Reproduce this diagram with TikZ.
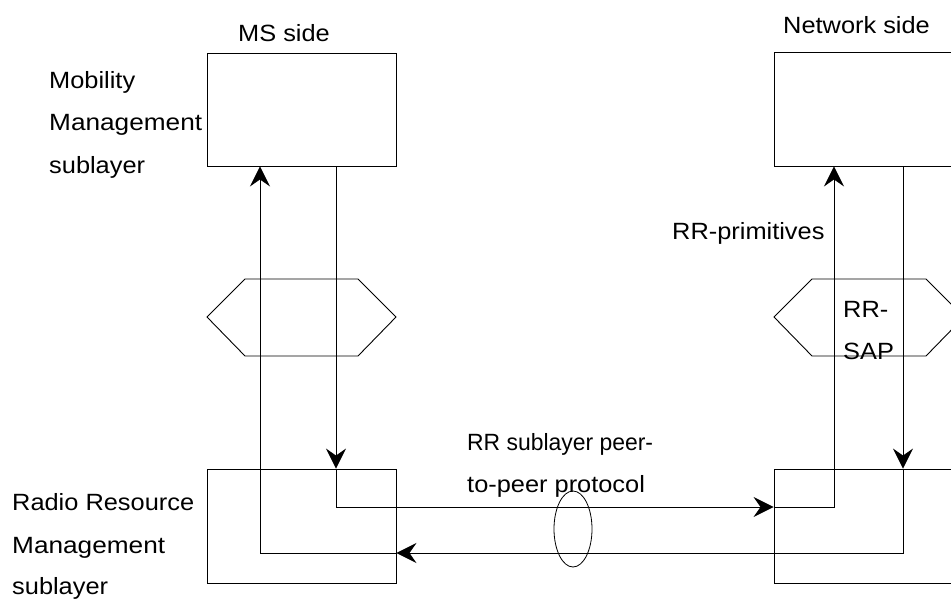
\documentclass[tikz,border=0pt]{standalone}
\usepackage{fontspec}
\setmainfont{Liberation Sans}[FakeStretch=1.08]
\newfontfamily\peerfont{Liberation Sans}[FakeStretch=0.975]
\newfontfamily\widefont{Liberation Sans}[FakeStretch=1.115]
\usetikzlibrary{arrows.meta}
\begin{document}
\begin{tikzpicture}[x=1pt,y=-1pt,
  line/.style={draw=black,line width=0.9pt},
  arr/.style={line,-{Stealth[length=20pt,width=20pt,inset=7pt]}},
  box/.style={draw=black,line width=0.9pt,rectangle,inner sep=0pt,minimum width=#1},
  lbl/.style={anchor=base west,inner sep=0pt,font=\fontsize{23.5}{28}\selectfont}]
\useasboundingbox (0,0) rectangle (951,600);
\clip (0,0) rectangle (951,600);
% boxes
\node[box=189pt,minimum height=113pt] (MMms) at (301.5,109.5) {};
\node[box=196pt,minimum height=114pt] (MMnet) at (872,109) {};
\node[box=189pt,minimum height=114pt] (RRms) at (301.5,526) {};
\node[box=196pt,minimum height=114pt] (RRnet) at (872,526) {};
% SAP hexagons
\draw[line] (207,317) -- (245,279) -- (358,279) -- (396,317) -- (358,356) -- (245,356) -- cycle;
\draw[line] (774,317) -- (812,279) -- (926,279) -- (964,317) -- (926,356) -- (812,356) -- cycle;
% x positions of the connectors
\coordinate (xa) at (336,0);
\coordinate (xb) at (834,0);
\coordinate (xc) at (903,0);
\coordinate (xd) at (260,0);
\coordinate (ya) at (0,507);
\coordinate (yb) at (0,553);
% MS -> network path
\draw[arr] (MMms.south -| xa) -- (RRms.north -| xa);
\draw[arr] (RRms.north -| xa) -- (xa |- ya) -- (RRnet.west |- ya);
\draw[arr] (RRnet.west |- ya) -- (xb |- ya) -- (MMnet.south -| xb);
% network -> MS path
\draw[arr] (MMnet.south -| xc) -- (RRnet.north -| xc);
\draw[arr] (RRnet.north -| xc) -- (xc |- yb) -- (RRms.east |- yb);
\draw[arr] (RRms.east |- yb) -- (xd |- yb) -- (MMms.south -| xd);
% peer protocol ellipse
\draw[line,line width=0.8pt] (573,529) ellipse [x radius=19, y radius=38];
% labels
\node[lbl] (ms) at (238,41) {MS side};
\node[lbl] (net) at (783,33) {Network side};
\node[lbl] (mm1) at (49,88) {Mobility};
\node[lbl,font=\fontsize{23.5}{28}\widefont] (mm2) at (49,130) {Management};
\node[lbl] (mm3) at (49,173) {sublayer};
\node[lbl] (rr1) at (12,510) {Radio Resource};
\node[lbl,font=\fontsize{23.5}{28}\widefont] (rr2) at (12,553) {Management};
\node[lbl] (rr3) at (12,594) {sublayer};
\node[lbl] (prim) at (672,239) {RR-primitives};
\node[lbl] (sap1) at (843,317) {RR-};
\node[lbl] (sap2) at (843,359) {SAP};
\node[lbl,font=\fontsize{23.5}{28}\peerfont] (peer1) at (467,450) {RR sublayer peer-};
\node[lbl] (peer2) at (467,492) {to-peer protocol};
\end{tikzpicture}
\end{document}
